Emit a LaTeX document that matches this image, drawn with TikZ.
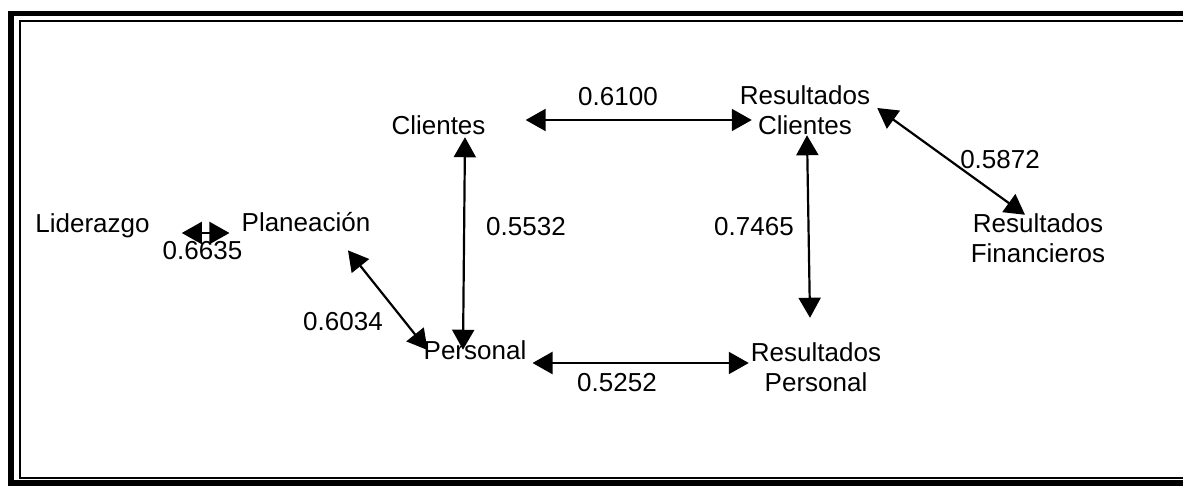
\documentclass[tikz,border=0pt]{standalone}
\usepackage{fontspec}
\setmainfont{Liberation Sans}
\usetikzlibrary{arrows.meta}

\tikzset{
    var/.style={inner sep=0pt, align=center, font=\fontsize{26}{30}\selectfont},
    val/.style={inner sep=0pt, font=\fontsize{26}{30}\selectfont},
    rel/.style={line width=2.2pt, {Triangle[length=20pt,width=22pt]}-{Triangle[length=20pt,width=22pt]}}
}

\begin{document}
\begin{tikzpicture}[x=1pt, y=-1pt]
    \clip (0,0) rectangle (1183,486);
    % frame
    \draw[line width=5.5pt] (11,13.5) rectangle (1200,483);
    \draw[line width=1.5pt] (20,21) rectangle (1200,478);

    \node[var] (lid) at (92.5,226) {Liderazgo};
    \node[var] (pla) at (306,222.5) {Planeación};
    \node[var] (cli) at (438.5,125.5) {Clientes};
    \node[var] (per) at (475,350.5) {Personal};
    \node[var] (resc) at (805,110.5) {Resultados\\Clientes};
    \node[var] (resp) at (816,367.5) {Resultados\\Personal};
    \node[var] (resf) at (1038,238.5) {Resultados\\Financieros};

    \node[val] (v1) at (202.5,251) {0.6635};
    \node[val] (v2) at (618,97) {0.6100};
    \node[val] (v3) at (526,227) {0.5532};
    \node[val] (v4) at (754,227) {0.7465};
    \node[val] (v5) at (343,322) {0.6034};
    \node[val] (v6) at (617,383) {0.5252};
    \node[val] (v7) at (1000,160) {0.5872};

    \draw[rel] ([xshift=32pt,yshift=-7pt]lid.east) -- ([xshift=-12pt,yshift=-10.5pt]pla.west);
    \draw[rel] ([xshift=40pt,yshift=5.5pt]cli.east) -- ([xshift=12pt,yshift=-9.5pt]resc.west);
    \draw[rel] ([xshift=26.5pt,yshift=-2pt]cli.south) -- ([xshift=-12pt,yshift=-9pt]per.north);
    \draw[rel] ([xshift=42pt,yshift=-18pt]pla.south) -- ([xshift=4pt,yshift=0.5pt]per.west);
    \draw[rel] ([xshift=6pt,yshift=-12.5pt]per.east) -- ([xshift=-2pt,yshift=4.5pt]resp.west);
    \draw[rel] ([xshift=2pt]resc.south) -- ([xshift=-6pt,yshift=25pt]resp.north);
    \draw[rel] ([xshift=7pt,yshift=2.5pt]resc.east) -- ([xshift=-13pt,yshift=-1pt]resf.north);
\end{tikzpicture}
\end{document}
